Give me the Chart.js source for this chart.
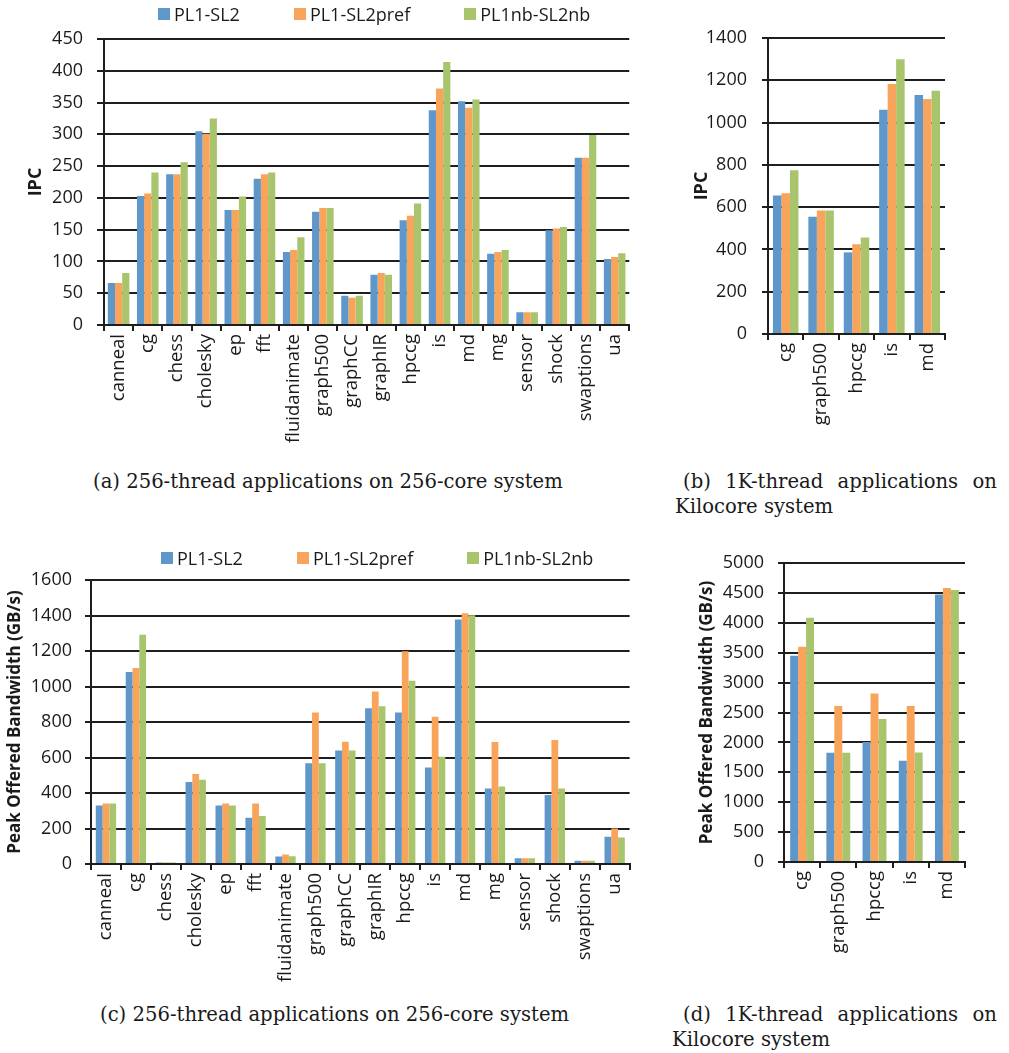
<!DOCTYPE html>
<html>
<head>
<meta charset="utf-8">
<script src="https://cdn.jsdelivr.net/npm/chart.js@4.4.1/dist/chart.umd.min.js"></script>
<style>
  body { margin: 0; background: #fff; width: 1009px; height: 1053px; position: relative; overflow: hidden; font-family: "Open Sans", sans-serif; }
  canvas { position: absolute; }
  .legend { position: absolute; display: flex; align-items: center; font-size: 18px; line-height: 24px; color: #1a1a1a; white-space: nowrap; }
  .legend .item { display: flex; align-items: center; margin-right: 54px; }
  .legend .box { width: 12px; height: 12px; margin-right: 4px; }
  .cap { position: absolute; font-family: "DejaVu Serif", serif; font-size: 19.6px; line-height: 22px; color: #1a1a1a; white-space: nowrap; }
  .just { text-align: justify; text-align-last: justify; white-space: normal; }
</style>
</head>
<body>
<canvas id="chartA" width="640" height="470" style="left:0;top:0"></canvas>
<canvas id="chartB" width="369" height="470" style="left:640px;top:0"></canvas>
<canvas id="chartC" width="640" height="470" style="left:0;top:530px"></canvas>
<canvas id="chartD" width="369" height="470" style="left:640px;top:530px"></canvas>

<div class="legend" id="legendA" style="left:158px;top:2px"></div>
<div class="legend" id="legendC" style="left:161px;top:546px"></div>

<div class="cap" style="left:93px;top:471px">(a) 256-thread applications on 256-core system</div>
<div class="cap just" style="left:683px;top:471px;width:314px">(b) 1K-thread applications on</div>
<div class="cap" style="left:675px;top:496px">Kilocore system</div>
<div class="cap" style="left:100px;top:1004px">(c) 256-thread applications on 256-core system</div>
<div class="cap just" style="left:683px;top:1004px;width:314px">(d) 1K-thread applications on</div>
<div class="cap" style="left:672px;top:1029px">Kilocore system</div>

<script>
// series names and colours
const seriesNames = ['PL1-SL2', 'PL1-SL2pref', 'PL1nb-SL2nb'];
const seriesColors = ['#6097ca', '#f8a55b', '#a8c46d'];

// 256-thread apps
const apps256 = ['canneal', 'cg', 'chess', 'cholesky', 'ep', 'fft', 'fluidanimate', 'graph500',
  'graphCC', 'graphIR', 'hpccg', 'is', 'md', 'mg', 'sensor', 'shock', 'swaptions', 'ua'];
// 1K-thread apps
const apps1k = ['cg', 'graph500', 'hpccg', 'is', 'md'];

// (a) IPC, 256-core
const ipc256_base = [66, 203, 237, 305, 181, 230, 115, 178, 46, 79, 165, 338, 352, 112, 20, 149, 263, 104];
const ipc256_pref = [66, 207, 237, 301, 181, 237, 118, 184, 43, 82, 172, 372, 342, 115, 20, 152, 263, 107];
const ipc256_nb   = [82, 240, 256, 325, 202, 240, 138, 184, 46, 79, 191, 414, 355, 118, 20, 154, 299, 113];

// (b) IPC, Kilocore
const ipc1k_base = [655, 555, 386, 1061, 1130];
const ipc1k_pref = [666, 584, 425, 1182, 1111];
const ipc1k_nb   = [774, 584, 456, 1300, 1150];

// (c) peak offered bandwidth, 256-core
const bw256_base = [330, 1081, 8, 462, 330, 260, 42, 568, 640, 877, 853, 543, 1377, 425, 32, 389, 19, 153];
const bw256_pref = [341, 1104, 8, 507, 341, 341, 53, 853, 689, 972, 1198, 830, 1413, 687, 32, 698, 19, 200];
const bw256_nb   = [341, 1292, 8, 474, 330, 270, 44, 568, 640, 889, 1032, 604, 1402, 436, 32, 425, 19, 150];

// (d) peak offered bandwidth, Kilocore
const bw1k_base = [3447, 1827, 2006, 1693, 4475];
const bw1k_pref = [3598, 2609, 2816, 2609, 4581];
const bw1k_nb   = [4084, 1827, 2391, 1832, 4547];

const ink = '#1e1e1e';

function makeLegend(id) {
  const el = document.getElementById(id);
  seriesNames.forEach(function(name, i) {
    const item = document.createElement('span');
    item.className = 'item';
    item.innerHTML = '<span class="box" style="background:' + seriesColors[i] + '"></span>' + name;
    el.appendChild(item);
  });
}
makeLegend('legendA');
makeLegend('legendC');

function barChart(id, cfg) {
  const ctx = document.getElementById(id).getContext('2d');
  return new Chart(ctx, {
    type: 'bar',
    data: {
      labels: cfg.labels,
      datasets: cfg.series.map(function(values, i) {
        return {
          label: seriesNames[i],
          data: values,
          backgroundColor: seriesColors[i],
          borderWidth: 0,
          barPercentage: 1.0,
          categoryPercentage: cfg.catPct
        };
      })
    },
    options: {
      responsive: false,
      animation: false,
      layout: { padding: { left: 0, right: cfg.padRight, top: cfg.padTop, bottom: 0 } },
      plugins: { legend: { display: false }, tooltip: { enabled: false } },
      scales: {
        x: {
          grid: { drawOnChartArea: false, drawTicks: true, tickLength: 6, lineWidth: 2, color: ink, offset: true },
          border: { display: true, color: ink, width: 2 },
          ticks: {
            autoSkip: false, minRotation: 90, maxRotation: 90, padding: 3,
            color: '#1a1a1a', font: { family: 'Open Sans', size: 18.5 }
          },
          afterFit: function(scale) { scale.height = cfg.xHeight; }
        },
        y: {
          min: 0, max: cfg.max,
          grid: { drawTicks: true, tickLength: cfg.tickLen, lineWidth: 2, color: ink },
          border: { display: true, color: ink, width: 2 },
          ticks: {
            stepSize: cfg.step, padding: cfg.tickPad,
            callback: function(v) { return String(v); },
            color: '#1a1a1a', font: { family: 'Open Sans', size: 18 }
          },
          title: {
            display: true, text: cfg.title, color: '#1a1a1a',
            font: { family: 'Open Sans', size: cfg.titleSize, weight: 'bold' },
            padding: { top: cfg.titlePad, bottom: 0 }
          },
          afterFit: function(scale) { scale.width = cfg.yWidth; }
        }
      }
    }
  });
}

barChart('chartA', {
  labels: apps256, series: [ipc256_base, ipc256_pref, ipc256_nb],
  max: 450, step: 50, title: 'IPC', titleSize: 18, titlePad: 25,
  yWidth: 104, xHeight: 145, padTop: 39, padRight: 5, tickLen: 7, tickPad: 14, catPct: 0.74
});

barChart('chartB', {
  labels: apps1k, series: [ipc1k_base, ipc1k_pref, ipc1k_nb],
  max: 1400, step: 200, title: 'IPC', titleSize: 18, titlePad: 51,
  yWidth: 128, xHeight: 136, padTop: 38, padRight: 64, tickLen: 6, tickPad: 15, catPct: 0.72
});

barChart('chartC', {
  labels: apps256, series: [bw256_base, bw256_pref, bw256_nb],
  max: 1600, step: 200, title: 'Peak Offered Bandwidth (GB/s)', titleSize: 17, titlePad: 5,
  yWidth: 91, xHeight: 136, padTop: 50, padRight: 5, tickLen: 6, tickPad: 13, catPct: 0.68
});

barChart('chartD', {
  labels: apps1k, series: [bw1k_base, bw1k_pref, bw1k_nb],
  max: 5000, step: 500, title: 'Peak Offered Bandwidth (GB/s)', titleSize: 17, titlePad: 57,
  yWidth: 144, xHeight: 138, padTop: 33, padRight: 44, tickLen: 6, tickPad: 14, catPct: 0.66
});
</script>
</body>
</html>
